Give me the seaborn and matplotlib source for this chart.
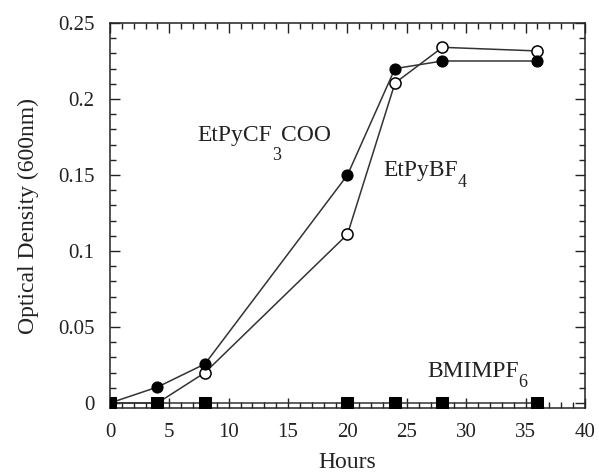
import matplotlib
matplotlib.use("Agg")
import matplotlib.pyplot as plt
import seaborn as sns
import pandas as pd
from matplotlib.ticker import MultipleLocator

hours = [0, 4, 8, 20, 24, 28, 36]
cf3coo = [0.0, 0.0105, 0.0257, 0.150, 0.220, 0.225, 0.225]
bf4 = [0.0, 0.0, 0.020, 0.111, 0.2105, 0.234, 0.2316]
pf6 = [0.0, 0.0, 0.0, 0.0, 0.0, 0.0, 0.0]

sns.set_style("ticks")
plt.rcParams['font.family'] = ['Liberation Serif', 'DejaVu Serif']

fig = plt.figure(figsize=(5.99, 4.75), dpi=100)
ax = fig.add_axes([0.1836, 0.141, 0.793, 0.8106])

lc = '#333333'
tc = '#222222'
sns.lineplot(x=hours, y=bf4, ax=ax, color=lc, lw=1.1, marker='o', markersize=8,
             markerfacecolor='white', markeredgecolor='black', markeredgewidth=1.1, zorder=3)
sns.lineplot(x=hours, y=cf3coo, ax=ax, color=lc, lw=1.1, marker='o', markersize=8,
             markerfacecolor='black', markeredgecolor='black', zorder=4)
sns.lineplot(x=hours, y=pf6, ax=ax, color=lc, lw=1.1, marker='s', markersize=8.5,
             markerfacecolor='black', markeredgecolor='black', zorder=5)

ax.set_xlim(0, 40)
ax.set_ylim(-0.0033, 0.25)
ax.xaxis.set_major_locator(MultipleLocator(5))
ax.xaxis.set_minor_locator(MultipleLocator(1))
ax.yaxis.set_minor_locator(MultipleLocator(0.01))
ax.set_yticks([0, 0.05, 0.1, 0.15, 0.2, 0.25])
ax.set_yticklabels(['0', '0.05', '0.1', '0.15', '0.2', '0.25'])
ax.tick_params(which='both', direction='in', top=True, right=True, labelsize=15,
               colors=tc, pad=11)
ax.tick_params(which='major', length=7, width=1)
ax.tick_params(which='minor', length=4, width=1)
for s in ax.spines.values():
    s.set_color(tc)
    s.set_linewidth(1.1)

ax.set_xlabel('Hours', fontsize=17, color=tc, labelpad=7)
ax.set_ylabel('Optical Density (600nm)', fontsize=17, color=tc, labelpad=14)


def sub_label(x, y, main, sub, tail, drop):
    t1 = ax.text(x, y, main, fontsize=17, color=tc, va='baseline', ha='left')
    t2 = ax.annotate(sub, xy=(1, y), xycoords=(t1, 'data'), xytext=(0, -drop),
                     textcoords='offset points', fontsize=13, color=tc,
                     va='baseline', ha='left')
    if tail:
        ax.annotate(tail, xy=(1, y), xycoords=(t2, 'data'), xytext=(0, 0),
                    textcoords='offset points', fontsize=17, color=tc,
                    va='baseline', ha='left')


sub_label(7.33, 0.1724, 'EtPyCF', '3', 'COO', 14)
sub_label(23.0, 0.1495, 'EtPyBF', '4', '', 8)
sub_label(26.7, 0.0171, 'BMIMPF', '6', '', 7)

fig.savefig('out.png', dpi=100)
